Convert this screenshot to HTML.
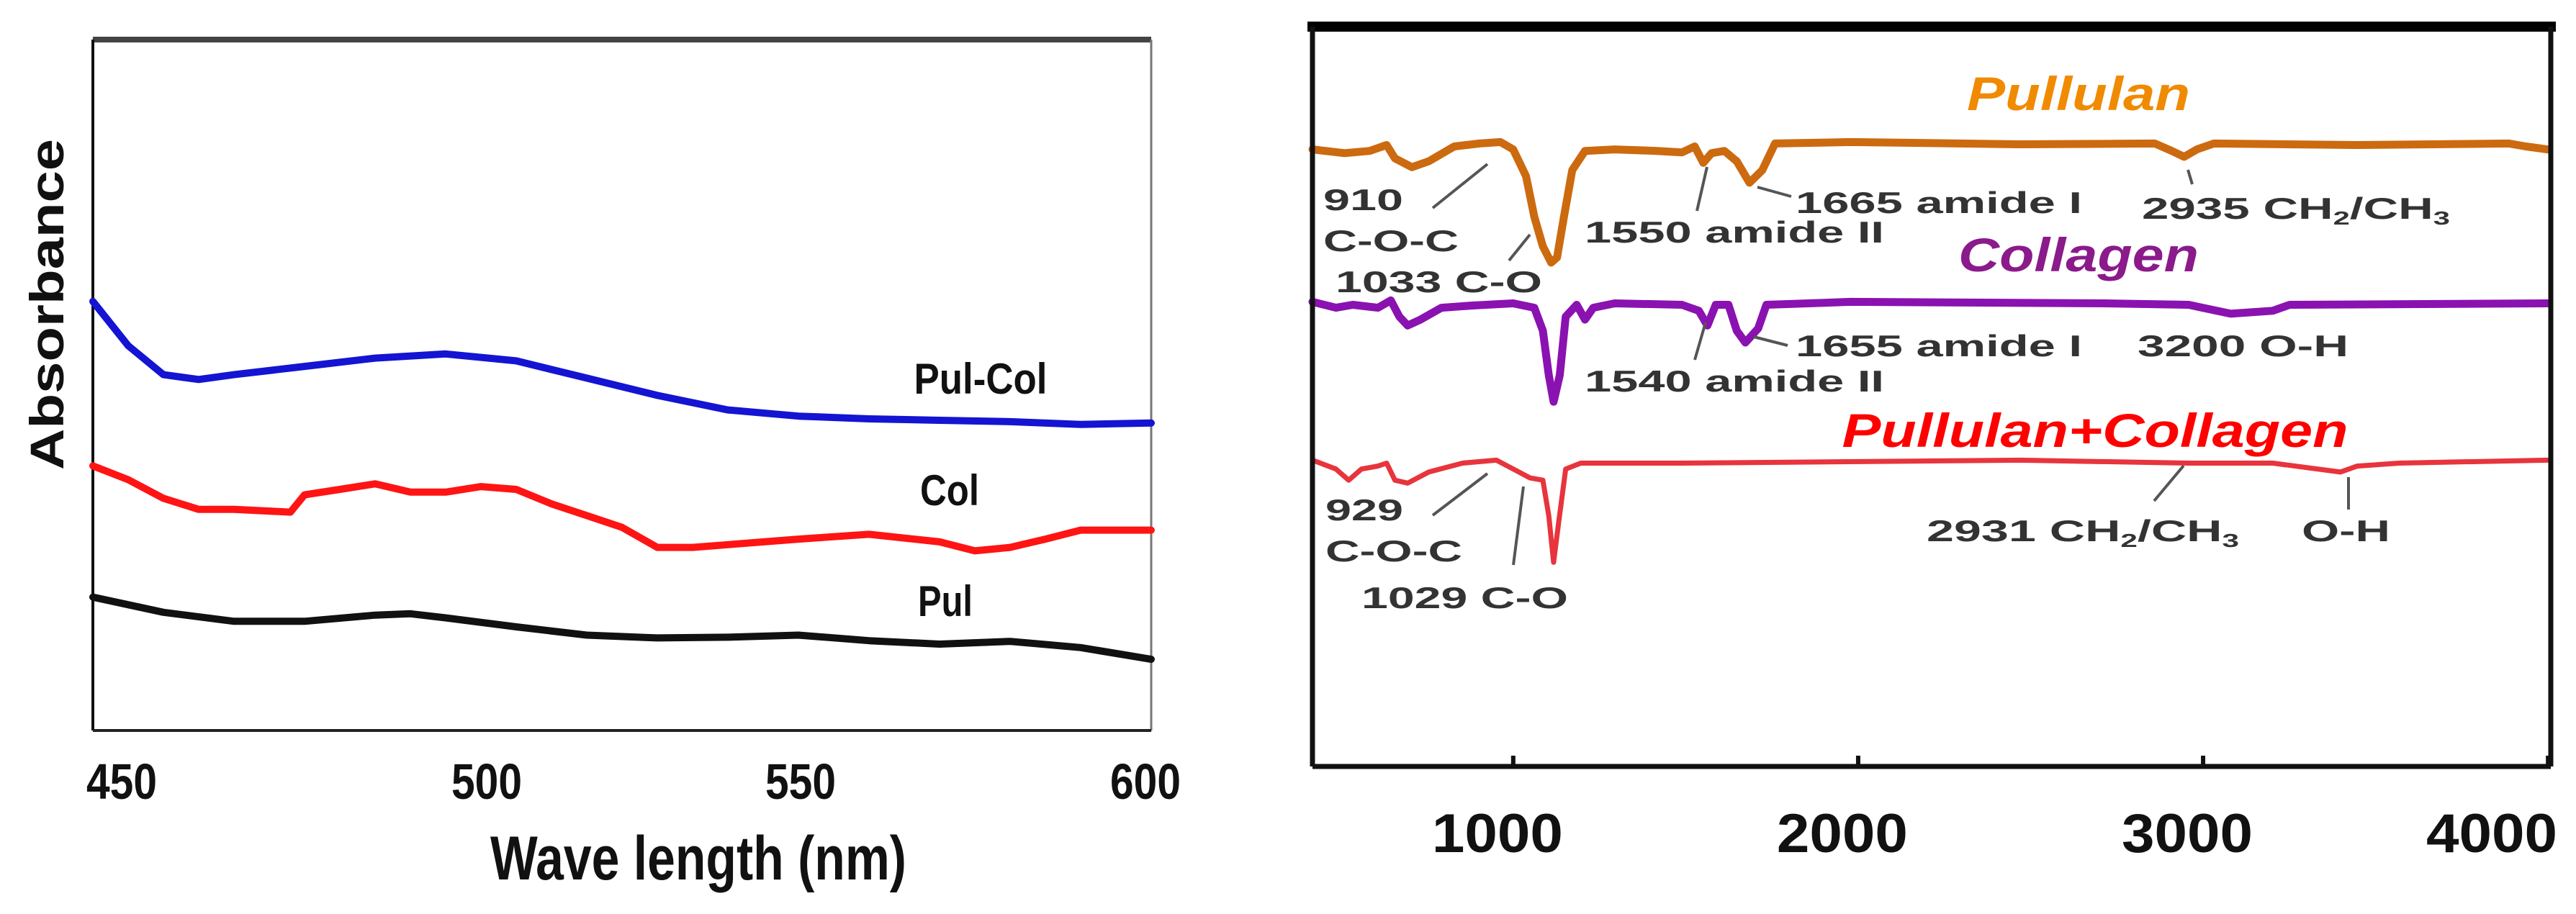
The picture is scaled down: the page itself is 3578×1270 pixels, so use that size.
<!DOCTYPE html>
<html><head><meta charset="utf-8"><style>
html,body{margin:0;padding:0;background:#fff;}
svg{display:block;}
text{font-family:"Liberation Sans",Arial,sans-serif;font-weight:bold;}
</style></head><body>
<svg id="fig" width="3578" height="1270" viewBox="0 0 3578 1270" xmlns="http://www.w3.org/2000/svg">
<rect width="3578" height="1270" fill="#fff"/>
<g id="left">
  <line x1="129" y1="55" x2="1599" y2="55" stroke="#444" stroke-width="8"/>
  <line x1="129" y1="55" x2="129" y2="1015" stroke="#111" stroke-width="4"/>
  <line x1="1599" y1="55" x2="1599" y2="1015" stroke="#777" stroke-width="3"/>
  <line x1="129" y1="1015" x2="1599" y2="1015" stroke="#222" stroke-width="4"/>
  <g id="lseries"></g>
  <g id="lticks"></g>
  <text x="970" y="1222" font-size="86" text-anchor="middle" textLength="578" lengthAdjust="spacingAndGlyphs" fill="#111">Wave length  (nm)</text>
  <text transform="translate(88,423) rotate(-90)" font-size="66" text-anchor="middle" textLength="460" lengthAdjust="spacingAndGlyphs" fill="#111">Absorbance</text>
  <text x="1362" y="547" font-size="60" text-anchor="middle" textLength="185" lengthAdjust="spacingAndGlyphs" fill="#111">Pul-Col</text>
  <text x="1319" y="702" font-size="60" text-anchor="middle" textLength="82" lengthAdjust="spacingAndGlyphs" fill="#111">Col</text>
  <text x="1313" y="856" font-size="60" text-anchor="middle" textLength="76" lengthAdjust="spacingAndGlyphs" fill="#111">Pul</text>
</g>
<g id="right">
  <g id="rseries"></g>
  <line x1="1816" y1="37" x2="3550" y2="37" stroke="#000" stroke-width="14"/>
  <line x1="1823" y1="37" x2="1823" y2="1065" stroke="#111" stroke-width="7"/>
  <line x1="3543" y1="37" x2="3543" y2="1065" stroke="#111" stroke-width="7"/>
  <line x1="1823" y1="1065" x2="3543" y2="1065" stroke="#111" stroke-width="7"/>
  <g id="rticks"></g>
  <g font-size="42" fill="#333">
    <text x="1838" y="292" textLength="111" lengthAdjust="spacingAndGlyphs">910</text>
    <text x="1838" y="349" textLength="188" lengthAdjust="spacingAndGlyphs">C-O-C</text>
    <text x="1855" y="406" textLength="287" lengthAdjust="spacingAndGlyphs">1033 C-O</text>
    <text x="2201" y="337" textLength="416" lengthAdjust="spacingAndGlyphs">1550 amide II</text>
    <text x="2494" y="296" textLength="398" lengthAdjust="spacingAndGlyphs">1665 amide I</text>
    <text x="2975" y="304" textLength="428" lengthAdjust="spacingAndGlyphs">2935 CH<tspan font-size="26" dy="8">2</tspan><tspan dy="-8">/CH</tspan><tspan font-size="26" dy="8">3</tspan></text>
    <text x="2494" y="495" textLength="398" lengthAdjust="spacingAndGlyphs">1655 amide I</text>
    <text x="2969" y="495" textLength="293" lengthAdjust="spacingAndGlyphs">3200 O-H</text>
    <text x="2201" y="544" textLength="416" lengthAdjust="spacingAndGlyphs">1540 amide II</text>
    <text x="1841" y="723" textLength="108" lengthAdjust="spacingAndGlyphs">929</text>
    <text x="1841" y="780" textLength="190" lengthAdjust="spacingAndGlyphs">C-O-C</text>
    <text x="1891" y="845" textLength="287" lengthAdjust="spacingAndGlyphs">1029 C-O</text>
    <text x="2676" y="752" textLength="434" lengthAdjust="spacingAndGlyphs">2931 CH<tspan font-size="26" dy="8">2</tspan><tspan dy="-8">/CH</tspan><tspan font-size="26" dy="8">3</tspan></text>
    <text x="3197" y="752" textLength="123" lengthAdjust="spacingAndGlyphs">O-H</text>
  </g>
  <g stroke="#555" stroke-width="4">
    <line x1="1990" y1="289" x2="2066" y2="228"/>
    <line x1="2096" y1="362" x2="2125" y2="326"/>
    <line x1="2357" y1="293" x2="2371" y2="232"/>
    <line x1="2441" y1="260" x2="2488" y2="273"/>
    <line x1="3039" y1="236" x2="3045" y2="256"/>
    <line x1="2354" y1="500" x2="2369" y2="448"/>
    <line x1="2436" y1="468" x2="2483" y2="480"/>
    <line x1="1990" y1="716" x2="2066" y2="658"/>
    <line x1="2102" y1="785" x2="2116" y2="676"/>
    <line x1="2992" y1="696" x2="3033" y2="647"/>
    <line x1="3262" y1="663" x2="3262" y2="708"/>
  </g>
  <text x="2887" y="153" font-size="66" font-style="italic" text-anchor="middle" textLength="310" lengthAdjust="spacingAndGlyphs" fill="#f08a00">Pullulan</text>
  <text x="2887" y="377" font-size="66" font-style="italic" text-anchor="middle" textLength="334" lengthAdjust="spacingAndGlyphs" fill="#8b1a8b">Collagen</text>
  <text x="2910" y="621" font-size="66" font-style="italic" text-anchor="middle" textLength="703" lengthAdjust="spacingAndGlyphs" fill="#ff0000">Pullulan+Collagen</text>
</g>
</svg>
<script>
// ---- UV-Vis data ----
const uvWl = [450,455,460,465,470,480,490,500,510,520,530,540,550,560,570,580,590,600];
const uvPulCol = [.621,.557,.515,.508,.515,.527,.539,.545,.535,.510,.485,.464,.455,.451,.449,.447,.443,.445];
const uvColWl = [450,455,460,465,470,478,480,485,490,495,500,505,510,515,520,525,530,535,540,550,560,570,575,580,585,590,600];
const uvCol = [.383,.363,.336,.320,.320,.316,.341,.349,.357,.345,.345,.353,.349,.328,.311,.294,.265,.265,.269,.277,.284,.273,.260,.265,.277,.290,.290];
const uvPulWl = [450,460,470,480,490,495,500,510,520,530,540,550,560,570,580,590,600];
const uvPul = [.193,.171,.158,.158,.167,.169,.163,.150,.138,.134,.135,.138,.130,.125,.129,.120,.103];
const uvTicks = [450,500,550,600];
const uvTickLabelX = [169,676,1112,1591];

// ---- FTIR data ----
const pulWn = [418,511,584,633,657,706,755,829,902,963,1000,1037,1061,1086,1110,1127,1147,1171,1208,1294,1416,1489,1526,1551,1575,1612,1648,1685,1722,1759,1979,2468,2860,2909,2945,2982,3031,3447,3887,3936,3998];
const pulT = [83.4,82.9,83.2,84.0,82.2,81.0,81.8,83.8,84.2,84.4,83.4,79.8,74.3,70.3,68.1,68.8,74.3,80.6,83.2,83.4,83.2,83.0,83.8,81.6,82.9,83.2,81.8,78.9,80.6,84.2,84.4,84.1,84.2,83.2,82.4,83.4,84.2,84.0,84.2,83.8,83.4];
const colWn = [418,486,535,608,645,670,694,731,792,878,1000,1061,1086,1103,1117,1135,1152,1184,1208,1232,1294,1489,1538,1563,1587,1624,1648,1673,1710,1734,1979,2713,2958,3080,3202,3251,3998];
const colT = [62.8,62.0,62.4,62.0,63.0,60.8,59.6,60.4,62.0,62.3,62.6,62.0,58.9,52.9,49.3,52.9,60.8,62.4,60.4,62.0,62.6,62.4,61.6,59.6,62.4,62.4,58.9,57.3,59.2,62.4,62.8,62.6,62.4,61.2,61.6,62.4,62.6];
const pcWn = [418,486,523,560,608,633,657,694,755,853,951,1000,1049,1086,1103,1117,1132,1152,1196,1489,2468,2958,3202,3398,3447,3569,3998];
const pcT = [41.4,40.2,38.7,40.2,40.6,41.0,38.7,38.3,39.8,41.0,41.4,40.2,39.0,38.7,33.9,27.6,33.1,40.2,41.0,41.0,41.4,41.0,41.0,39.8,40.6,41.0,41.4];
const irTicks = [1000,2000,3000,4000];

const NS = "http://www.w3.org/2000/svg";
const uvX = v => 129 + (v-450)/(600-450)*(1599-129);
const uvY = v => 1015 - v*960;
const irX = v => 1823 + (v-418)/(4008-418)*(3543-1823);
const irY = v => 1065 - v*10.28;

function pathD(xs, ys, fx, fy){
  return xs.map((x,i)=>(i?'L':'M')+fx(x).toFixed(1)+' '+fy(ys[i]).toFixed(1)).join(' ');
}
function addPath(parent, d, color, w){
  const p = document.createElementNS(NS,'path');
  p.setAttribute('d', d); p.setAttribute('fill','none');
  p.setAttribute('stroke', color); p.setAttribute('stroke-width', w);
  p.setAttribute('stroke-linejoin','round'); p.setAttribute('stroke-linecap','round');
  parent.appendChild(p); return p;
}
const ls = document.getElementById('lseries');
let p;
p = addPath(ls, pathD(uvWl, uvPulCol, uvX, uvY), '#1414d2', 10);


p = addPath(ls, pathD(uvColWl, uvCol, uvX, uvY), '#ff1414', 10);


p = addPath(ls, pathD(uvPulWl, uvPul, uvX, uvY), '#111', 10);



const lt = document.getElementById('lticks');
uvTicks.forEach((t,i)=>{
  const tx = document.createElementNS(NS,'text');
  tx.setAttribute('x', uvTickLabelX[i]); tx.setAttribute('y', 1110);
  tx.setAttribute('font-size', 70); tx.setAttribute('text-anchor','middle'); tx.setAttribute('fill','#111');
  tx.setAttribute('textLength', 98); tx.setAttribute('lengthAdjust','spacingAndGlyphs');
  tx.textContent = t;
  
  
  lt.appendChild(tx);
});

const rs = document.getElementById('rseries');
p = addPath(rs, pathD(pulWn, pulT, irX, irY), '#cc6a10', 11);


p = addPath(rs, pathD(colWn, colT, irX, irY), '#8a12b0', 11);


p = addPath(rs, pathD(pcWn, pcT, irX, irY), '#e8343c', 7);



const rt = document.getElementById('rticks');
irTicks.forEach((t,i)=>{
  const ln = document.createElementNS(NS,'line');
  ln.setAttribute('x1', irX(t)); ln.setAttribute('x2', irX(t));
  ln.setAttribute('y1', 1065); ln.setAttribute('y2', 1050);
  ln.setAttribute('stroke','#111'); ln.setAttribute('stroke-width',6);
  
  
  rt.appendChild(ln);
  const last = i === irTicks.length-1;
  const tx = document.createElementNS(NS,'text');
  tx.setAttribute('x', last ? 3552 : irX(t) - 22); tx.setAttribute('y', 1184);
  tx.setAttribute('font-size', 76); tx.setAttribute('text-anchor', last ? 'end' : 'middle'); tx.setAttribute('fill','#111');
  tx.setAttribute('textLength', 182); tx.setAttribute('lengthAdjust','spacingAndGlyphs');
  tx.textContent = t;
  
  
  rt.appendChild(tx);
});
</script>
</body></html>
